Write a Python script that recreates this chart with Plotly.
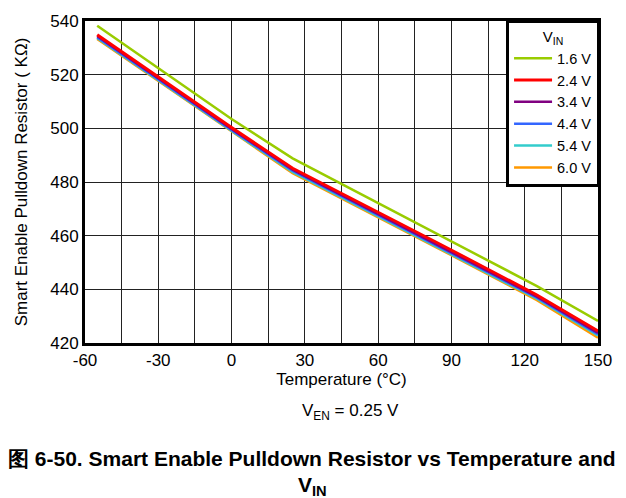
import plotly.graph_objects as go

temps = [-55, 0, 25, 85, 125, 150]
labels = ["1.6 V", "2.4 V", "3.4 V", "4.4 V", "5.4 V", "6.0 V"]
colors = ["#99CC00", "#FF0000", "#800080", "#3366FF", "#33CCCC", "#FF9900"]
r_16 = [538.2, 503.5, 488.8, 460.2, 441.2, 428.2]
r_24 = [534.9, 500.3, 485.1, 457.0, 437.9, 424.5]
r_34 = [534.4, 499.8, 484.6, 456.4, 437.3, 423.8]
r_44 = [534.0, 499.4, 484.2, 456.0, 436.9, 423.3]
r_54 = [533.7, 499.1, 483.8, 455.6, 436.5, 422.8]
r_60 = [533.3, 498.7, 483.3, 455.1, 436.0, 422.0]
series = [r_16, r_24, r_34, r_44, r_54, r_60]
xticks = [-60, -30, 0, 30, 60, 90, 120, 150]
yticks = [420, 440, 460, 480, 500, 520, 540]

fig = go.Figure()
for i in reversed(range(len(series))):
    fig.add_trace(go.Scatter(x=temps, y=series[i], mode="lines", name=labels[i],
                             line=dict(color=colors[i], width=2.5 if i != 1 else 3)))

font = "Liberation Sans, Arial, sans-serif"
fig.update_layout(
    width=626, height=498,
    margin=dict(l=85, r=28, t=15, b=155),
    paper_bgcolor="white", plot_bgcolor="white",
    font=dict(family=font, size=17, color="black"),
    showlegend=True,
    legend=dict(x=1.004, y=1.004, xanchor="right", yanchor="top", bgcolor="white",
                bordercolor="black", borderwidth=3, traceorder="reversed",
                title=dict(text="V<sub>IN</sub>", side="top center", font=dict(size=15)),
                font=dict(size=14.5), itemwidth=38, tracegroupgap=0),
    xaxis=dict(range=[-60, 150], tickvals=xticks, ticktext=[str(v) for v in xticks],
               showgrid=True, gridcolor="#222", gridwidth=1,
               minor=dict(dtick=15, tick0=-60, showgrid=True, gridcolor="#222", gridwidth=1),
               showline=True, linecolor="black", linewidth=3, mirror=True,
               ticks="", zeroline=False, tickfont=dict(size=17),
               title=dict(text="Temperature (°C)", font=dict(size=17), standoff=3)),
    yaxis=dict(range=[420, 540], tickvals=yticks, ticktext=[str(v) for v in yticks],
               showgrid=True, gridcolor="#222", gridwidth=1,
               showline=True, linecolor="black", linewidth=3, mirror=True,
               ticks="", zeroline=False, tickfont=dict(size=17),
               title=dict(text="Smart Enable Pulldown Resistor ( KΩ)", font=dict(size=17), standoff=19)),
    annotations=[
        dict(text="V<sub>EN</sub> = 0.25 V", xref="paper", yref="paper", x=0.517, y=-0.215,
             xanchor="center", yanchor="middle", showarrow=False, font=dict(size=17)),
        dict(text="<b>图 6-50. Smart Enable Pulldown Resistor vs Temperature and</b>",
             xref="paper", yref="paper", x=0.4425, y=-0.36, xanchor="center", yanchor="middle",
             showarrow=False, font=dict(size=21)),
        dict(text="<b>V<sub>IN</sub></b>", xref="paper", yref="paper", x=0.4425, y=-0.443,
             xanchor="center", yanchor="middle", showarrow=False, font=dict(size=21)),
    ],
)
fig.write_html("out.html", config={"displayModeBar": False},
               post_script="document.body.style.margin='0px';")
